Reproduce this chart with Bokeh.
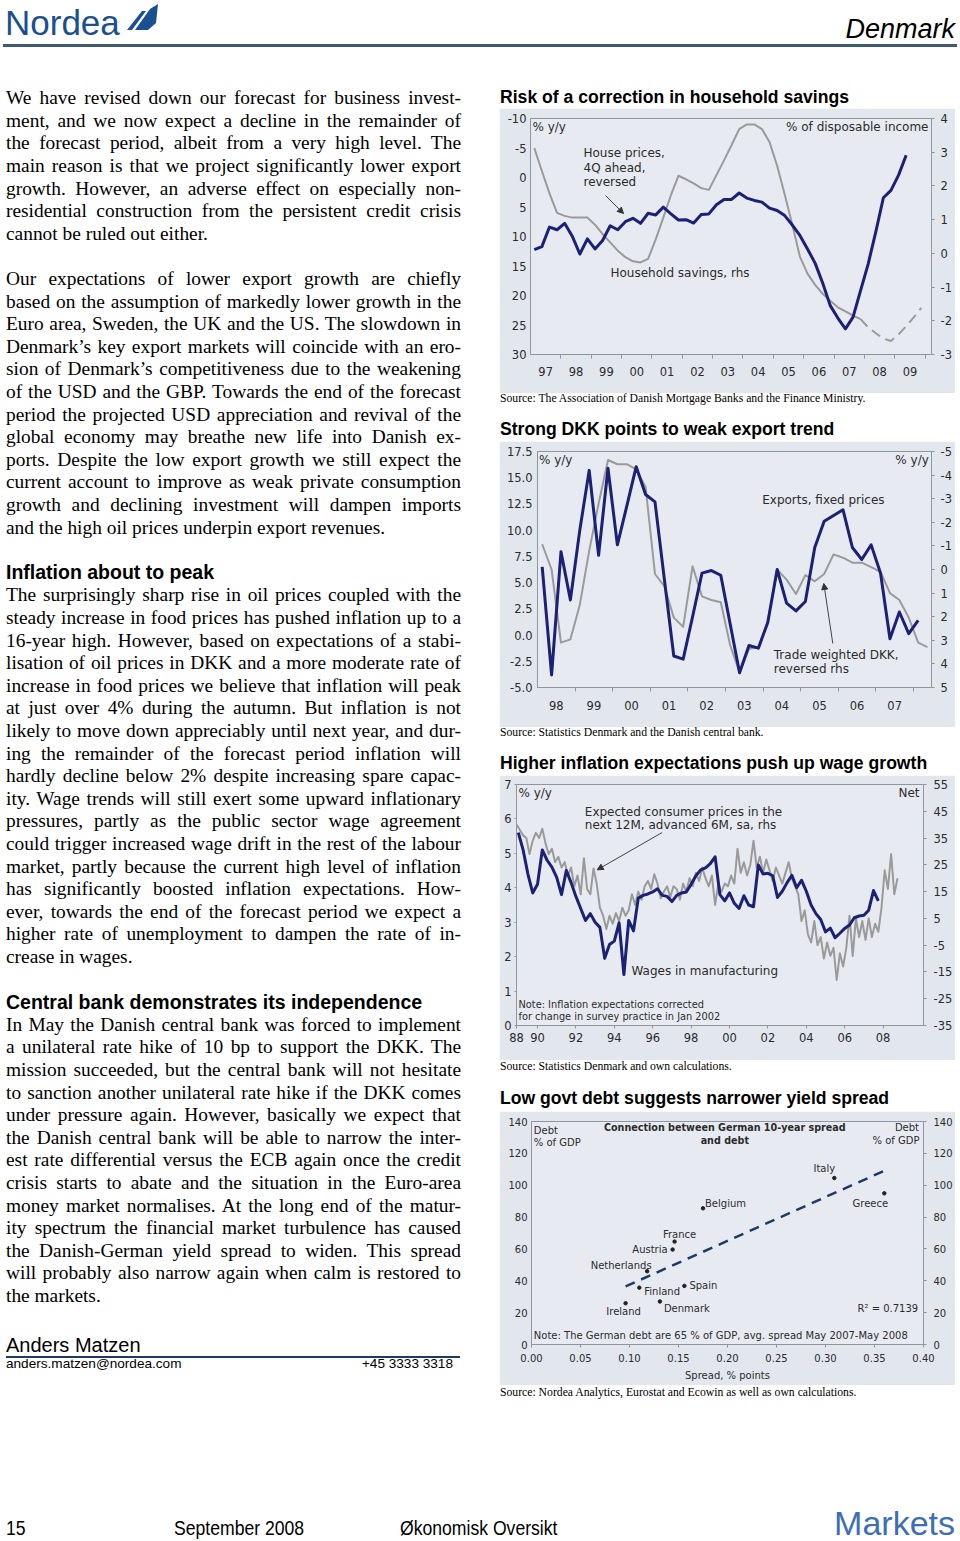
import numpy as np
from bokeh.plotting import figure
from bokeh.models import (Range1d, LinearAxis, FixedTicker, Label, Arrow, NormalHead,
                          Div, Spacer)
from bokeh.layouts import column, row
from bokeh.embed import file_html
from bokeh.resources import INLINE

# ============================ DATA ============================
# Chart 1 - quarterly observations, first = 1997 Q1
c1_first_quarter = 1997.125
c1_household_savings = [0.11, 0.20, 0.78, 0.70, 0.89, 0.51, -0.02, 0.43, 0.13, 0.38,
                        0.82, 0.70, 0.94, 1.04, 0.89, 1.19, 1.14, 1.37, 1.17, 0.99,
                        1.00, 0.90, 1.15, 1.17, 1.44, 1.60, 1.60, 1.79, 1.64, 1.57,
                        1.52, 1.34, 1.27, 1.12, 0.84, 0.53, 0.13, -0.29, -0.88, -1.55,
                        -1.92, -2.24, -1.89, -1.10, -0.31, 0.64, 1.65, 1.87, 2.32, 2.91]
c1_house_prices_rev = [-5.0, -1.1, 2.7, 6.0, 6.5, 6.8, 6.8, 6.8, 8.0, 9.6,
                       11.0, 12.4, 13.5, 14.2, 14.4, 13.8, 10.5, 6.8, 3.0, -0.3,
                       0.3, 1.0, 1.8, 2.1, -0.4, -2.9, -5.5, -8.2, -9.0, -9.0,
                       -8.2, -6.0, -2.0, 2.9, 8.0, 13.4, 16.3, 18.2, 19.7, 20.9,
                       22.0, 22.7, 23.4, 24.0, 25.4, 26.4, 27.3, 27.7, 26.6, 25.2,
                       23.7, 22.1]
c1_forecast_from = 43
c1_years = list(range(1997, 2010))

# Chart 2 - quarterly observations, first = 1998 Q1
c2_first_quarter = 1998.125
c2_exports = [6.5, -3.8, 7.95, 3.35, 10.0, 15.7, 7.6, 15.9, 8.6, 12.3,
              16.05, 13.4, 12.7, 5.3, -2.0, -2.3, 1.75, 5.9, 6.15, 5.7,
              1.05, -3.6, -1.0, -1.25, 1.2, 6.25, 3.05, 2.3, 3.2, 8.35,
              10.85, 11.4, 11.95, 8.35, 7.2, 8.6, 5.9, -0.35, 2.2, 0.14, 1.4]
c2_dkk_rev = [-1.07, 0.0, 3.1, 2.96, 1.5, -0.79, -2.79, -4.64, -4.46, -4.46,
              -4.24, -3.5, 0.19, 0.71, 2.04, 2.43, -0.14, 1.14, 1.29, 1.39,
              3.21, 4.36, 3.36, 3.29, 2.21, 0.0, 0.43, 1.04, 0.24, 0.5,
              0.19, -0.64, -0.5, -0.29, -0.29, -0.1, 0.1, 1.0, 1.29, 2.04,
              3.1, 3.29]
c2_years = list(range(1998, 2008))

# Chart 3 - wages quarterly from 1989 Q1, expectations every two months
c3_wage_first_quarter = 1989.0
c3_wages = [5.60, 5.10, 4.40, 3.85, 4.10, 5.10, 4.80, 4.60, 4.30, 3.80,
            4.50, 4.15, 3.75, 3.40, 3.05, 3.25, 3.00, 2.85, 1.95, 2.35,
            2.45, 2.98, 1.48, 3.05, 2.75, 3.70, 3.78, 3.82, 3.88, 3.97,
            3.78, 3.75, 3.60, 3.78, 3.85, 3.88, 4.10, 4.35, 4.52, 4.58,
            4.70, 4.90, 3.80, 3.62, 3.85, 3.55, 3.40, 3.77, 3.50, 3.45,
            4.66, 4.40, 4.42, 4.35, 3.72, 3.90, 4.15, 4.36, 4.00, 4.22,
            3.90, 3.50, 3.25, 3.08, 2.72, 2.83, 2.55, 2.68, 2.82, 2.92,
            3.13, 3.18, 3.20, 3.35, 3.92, 3.62]
c3_expect_first = 1988.917
c3_expected_prices = [40, 38, 36, 35, 29, 34, 37, 35, 38.5, 33,
                      29, 31, 26, 28, 24, 26, 21, 24, 17, 21,
                      14, 27.5, 16, 14, 23.6, 18, 9, 6, 1, 6,
                      3, 7, 4, 9, 6, 8, 14, 10, 15, 12,
                      17, 19, 16, 21.5, 18, 12.5, 15, 17, 13, 17,
                      16, 12, 18, 15, 20, 17, 22, 19, 24, 20,
                      17, 21, 10, 18, 15, 18, 17, 21, 18, 31,
                      22, 26, 21, 25, 34, 24, 28, 22, 27, 23,
                      19, 24, 21, 18, 22, 26, 20, 17, 14, 4,
                      8, -1, -4, 4, -5, -2, -10, -4, -9, -6,
                      -18, -8, -13, -6, 6, -9, 5, -2, 4, -3,
                      5, -2, 3, 0, 9, 23, 16, 29, 14, 20]
c3_tick_years = list(range(1988, 2009, 2))

# Chart 4 - scatter
c4_countries = ["Italy", "Greece", "Belgium", "France", "Austria",
                "Netherlands", "Finland", "Spain", "Ireland", "Denmark"]
c4_spread = [0.309, 0.360, 0.175, 0.146, 0.144, 0.118, 0.110, 0.156, 0.096, 0.131]
c4_debt = [104.5, 94.9, 85.5, 64.6, 59.6, 46.0, 35.7, 36.8, 25.9, 27.0]

# ============================ STYLE ============================
BLUE = "#1b2175"
GRAY = "#9a9a9a"
PANEL = "#e2e7ee"
PLOTBG = "#e7ebf1"
FRAMEC = "#8f969e"
TXT = "#2b2b2b"
FONT = "DejaVu Sans"
MET = {"Liberation Sans": (0.905, 0.212), "Liberation Serif": (0.891, 0.216),
       "DejaVu Sans": (0.928, 0.236)}
RW = 456  # right column width


def txt(x, base, s, size, fam="Liberation Sans", weight="normal", style="normal",
        color="#000", anchor="left", extra=""):
    a, d = MET[fam]
    lh = (a + d) * size
    top = base - a * size
    tr = "transform:translateX(-100%);" if anchor == "right" else ""
    return (f'<div style="position:absolute;left:{x:.1f}px;top:{top:.2f}px;'
            f"font-family:'{fam}';font-size:{size}px;line-height:{lh:.2f}px;"
            f'font-weight:{weight};font-style:{style};color:{color};white-space:nowrap;'
            f'{tr}{extra}">{s}</div>')


def box(w, h, inner):
    return Div(text=f'<div style="position:relative;width:{w}px;height:{h}px;">{inner}</div>',
               width=w, height=h, margin=0)


class FrameMap:
    def __init__(self, geom, xr, yr):
        gx, gy, w, h, (bl, br, bt, bb) = geom
        self.x0p, self.x1p = gx + bl, gx + w - br
        self.y0p, self.y1p = gy + bt, gy + h - bb
        self.xr, self.yr = xr, yr

    def x(self, px):
        return self.xr[0] + (px - self.x0p) / (self.x1p - self.x0p) * (self.xr[1] - self.xr[0])

    def y(self, py):
        return self.yr[0] + (self.y1p - py) / (self.y1p - self.y0p) * (self.yr[1] - self.yr[0])

    def ppx(self):
        return (self.x1p - self.x0p) / (self.xr[1] - self.xr[0])

    def ppy(self):
        return (self.y1p - self.y0p) / (self.yr[1] - self.yr[0])


def make_fig(geom, xr, yr):
    gx, gy, w, h, (bl, br, bt, bb) = geom
    p = figure(width=w, height=h, x_range=Range1d(*xr), y_range=Range1d(*yr),
               output_backend="svg", toolbar_location=None,
               min_border_left=bl, min_border_right=br, min_border_top=bt, min_border_bottom=bb)
    p.frame_align = False
    p.background_fill_color = PLOTBG
    p.border_fill_color = PANEL
    p.outline_line_color = FRAMEC
    p.xgrid.visible = False
    p.ygrid.visible = False
    return p


def style_axis(ax, size="11.5px", tick_out=3, standoff=4):
    ax.major_label_text_font = FONT
    ax.major_label_text_font_size = size
    ax.major_label_text_color = TXT
    ax.axis_line_color = FRAMEC
    ax.major_tick_line_color = FRAMEC
    ax.minor_tick_line_color = None
    ax.major_tick_in = 0
    ax.minor_tick_in = 0
    ax.major_tick_out = tick_out
    ax.major_label_standoff = standoff


def set_ticks(ax, ticks, fmt="{:g}"):
    ax.ticker = FixedTicker(ticks=ticks)
    ax.major_label_overrides = {t: fmt.format(t) for t in ticks}


def lab(p, x, y, text, size="12px", align="left", bold=False):
    p.add_layout(Label(x=x, y=y, text=text, text_font=FONT, text_font_size=size,
                       text_color=TXT, text_align=align, text_baseline="middle",
                       text_font_style="bold" if bold else "normal"))


def arrow(p, x0, y0, x1, y1):
    p.add_layout(Arrow(end=NormalHead(size=6, fill_color="#333333", line_color="#333333"),
                       x_start=x0, y_start=y0, x_end=x1, y_end=y1,
                       line_color="#444444", line_width=1))


# ============================ CHART 1 ============================
G1 = (499, 108, RW, 285, (31, 24, 10, 39))
C1_XR, C1_YR, C1_RHS = (1997.0, 2010.21), (30, -10), (-3, 4)
p1 = make_fig(G1, C1_XR, C1_YR)
p1.extra_y_ranges = {"rhs": Range1d(*C1_RHS)}
ax1r = LinearAxis(y_range_name="rhs")
p1.add_layout(ax1r, "right")
ax1l, ax1b = p1.left[0], p1.below[0]
for ax in (ax1l, ax1r, ax1b):
    style_axis(ax)
set_ticks(ax1l, list(range(-10, 31, 5)))
ax1l.major_tick_out = 0
set_ticks(ax1r, list(range(-3, 5)))
ax1r.major_label_standoff = 6
ax1b.ticker = FixedTicker(ticks=[y + 0.5 for y in c1_years], minor_ticks=[y + 1 for y in c1_years])
ax1b.major_label_overrides = {y + 0.5: f"{y % 100:02d}" for y in c1_years}
ax1b.major_tick_out = 0
ax1b.minor_tick_out = 4
ax1b.minor_tick_line_color = FRAMEC
ax1b.major_label_standoff = 8

hp_x = [c1_first_quarter + 0.25 * i for i in range(len(c1_house_prices_rev))]
sv_x = [c1_first_quarter + 0.25 * i for i in range(len(c1_household_savings))]
k = c1_forecast_from
p1.line(hp_x[:k + 1], c1_house_prices_rev[:k + 1], line_color=GRAY, line_width=2, line_join="round")
p1.line(hp_x[k:], c1_house_prices_rev[k:], line_color=GRAY, line_width=2, line_dash="10 6")
p1.line(sv_x, c1_household_savings, line_color=BLUE, line_width=3, line_join="round",
        y_range_name="rhs")
m1 = FrameMap(G1, C1_XR, C1_YR)
lab(p1, m1.x(532), m1.y(126), "% y/y")
lab(p1, m1.x(928), m1.y(126), "% of disposable income", align="right")
for i, s in enumerate(["House prices,", "4Q ahead,", "reversed"]):
    lab(p1, m1.x(583), m1.y(152.7 + 14.5 * i), s)
lab(p1, m1.x(610), m1.y(272), "Household savings, rhs")
arrow(p1, m1.x(605), m1.y(195), m1.x(623), m1.y(213))

# ============================ CHART 2 ============================
G2 = (499, 441, RW, 286, (38, 24, 10, 40))
C2_XR, C2_YR, C2_RHS = (1998.0, 2008.48), (-5, 17.5), (5, -5)
p2 = make_fig(G2, C2_XR, C2_YR)
p2.extra_y_ranges = {"rhs": Range1d(*C2_RHS)}
ax2r = LinearAxis(y_range_name="rhs")
p2.add_layout(ax2r, "right")
ax2l, ax2b = p2.left[0], p2.below[0]
for ax in (ax2l, ax2r, ax2b):
    style_axis(ax)
set_ticks(ax2l, [-5 + 2.5 * i for i in range(10)], "{:.1f}")
ax2l.major_tick_out = 0
ax2l.major_label_standoff = 5
set_ticks(ax2r, list(range(-5, 6)))
ax2r.major_label_standoff = 6
ax2b.ticker = FixedTicker(ticks=[y + 0.5 for y in c2_years], minor_ticks=[y + 1 for y in c2_years])
ax2b.major_label_overrides = {y + 0.5: f"{y % 100:02d}" for y in c2_years}
ax2b.major_tick_out = 0
ax2b.minor_tick_out = 4
ax2b.minor_tick_line_color = FRAMEC
ax2b.major_label_standoff = 9

ex_x = [c2_first_quarter + 0.25 * i for i in range(len(c2_exports))]
dk_x = [c2_first_quarter + 0.25 * i for i in range(len(c2_dkk_rev))]
p2.line(dk_x, c2_dkk_rev, line_color=GRAY, line_width=2, line_join="round", y_range_name="rhs")
p2.line(ex_x, c2_exports, line_color=BLUE, line_width=3, line_join="round")
m2 = FrameMap(G2, C2_XR, C2_YR)
lab(p2, m2.x(538.5), m2.y(459), "% y/y")
lab(p2, m2.x(928.3), m2.y(459), "% y/y", align="right")
lab(p2, m2.x(761.7), m2.y(499.7), "Exports, fixed prices")
lab(p2, m2.x(773.3), m2.y(654.7), "Trade weighted DKK,")
lab(p2, m2.x(773.3), m2.y(668.7), "reversed rhs")
arrow(p2, m2.x(832.3), m2.y(643), m2.x(823.3), m2.y(583))

# ============================ CHART 3 ============================
G3 = (499, 775, RW, 285, (17, 32, 9, 35))
C3_XR, C3_YR, C3_RHS = (1988.906, 2010.104), (0, 7), (-35, 55)
p3 = make_fig(G3, C3_XR, C3_YR)
p3.extra_y_ranges = {"rhs": Range1d(*C3_RHS)}
ax3r = LinearAxis(y_range_name="rhs")
p3.add_layout(ax3r, "right")
ax3l, ax3b = p3.left[0], p3.below[0]
for ax in (ax3l, ax3r, ax3b):
    style_axis(ax)
set_ticks(ax3l, list(range(0, 8)))
ax3l.major_tick_out = 2
ax3l.major_label_standoff = 3
set_ticks(ax3r, list(range(-35, 56, 10)))
ax3r.major_label_standoff = 7
c3_ticks = [max(y, C3_XR[0]) for y in c3_tick_years]
ax3b.ticker = FixedTicker(ticks=c3_ticks)
ax3b.major_label_overrides = {t: f"{y % 100:02d}" for t, y in zip(c3_ticks, c3_tick_years)}
ax3b.major_tick_out = 3
ax3b.major_label_standoff = 4

wg_x = [c3_wage_first_quarter + 0.25 * i for i in range(len(c3_wages))]
ep_x = [c3_expect_first + i / 6 for i in range(len(c3_expected_prices))]
p3.line(ep_x, c3_expected_prices, line_color=GRAY, line_width=2, line_join="round",
        y_range_name="rhs")
p3.line(wg_x, c3_wages, line_color=BLUE, line_width=3, line_join="round")
m3 = FrameMap(G3, C3_XR, C3_YR)
lab(p3, m3.x(518), m3.y(792.7), "% y/y")
lab(p3, m3.x(919), m3.y(792.7), "Net", align="right")
lab(p3, m3.x(584.3), m3.y(811), "Expected consumer prices in the")
lab(p3, m3.x(584.3), m3.y(824.7), "next 12M, advanced 6M, sa, rhs")
arrow(p3, m3.x(661.7), m3.y(832), m3.x(596.7), m3.y(869.3))
lab(p3, m3.x(631), m3.y(970.3), "Wages in manufacturing")
lab(p3, m3.x(518), m3.y(1004.3), "Note: Inflation expectations corrected", size="9.8px")
lab(p3, m3.x(518), m3.y(1016), "for change in survey practice in Jan 2002", size="9.8px")

# ============================ CHART 4 ============================
G4 = (499, 1111, RW, 274, (32, 32, 10, 41))
C4_XR, C4_YR = (0.0, 0.4), (0, 140)
p4 = make_fig(G4, C4_XR, C4_YR)
p4.extra_y_ranges = {"rhs": Range1d(*C4_YR)}
ax4r = LinearAxis(y_range_name="rhs")
p4.add_layout(ax4r, "right")
ax4l, ax4b = p4.left[0], p4.below[0]
for ax in (ax4l, ax4r, ax4b):
    style_axis(ax, size="10px")
for ax in (ax4l, ax4r):
    set_ticks(ax, list(range(0, 141, 20)))
ax4l.major_tick_out = 0
ax4r.major_label_standoff = 7
set_ticks(ax4b, [round(0.05 * i, 2) for i in range(9)], "{:.2f}")
ax4b.major_label_standoff = 6
ax4b.axis_label = "Spread, % points"
ax4b.axis_label_text_font = FONT
ax4b.axis_label_text_font_size = "10px"
ax4b.axis_label_text_font_style = "normal"
ax4b.axis_label_text_color = TXT
ax4b.axis_label_standoff = 5

slope, icpt = np.polyfit(c4_spread, c4_debt, 1)
fx = np.array([min(c4_spread), max(c4_spread)])
p4.line(fx, slope * fx + icpt, line_color="#1f3b63", line_width=2.5, line_dash="10 7")
p4.scatter(c4_spread, c4_debt, size=3.5, color="#222222")
m4 = FrameMap(G4, C4_XR, C4_YR)
LABEL_OFF = {"Italy": (-10, 10, "center"), "Greece": (-14, -10, "center"),
             "Belgium": (2, 5, "left"), "France": (5, 7, "center"),
             "Austria": (-5, 0, "right"), "Netherlands": (-26, 6, "center"),
             "Finland": (5, -3.5, "left"), "Spain": (5, 0.5, "left"),
             "Ireland": (-2, -8, "center"), "Denmark": (4, -7, "left")}
for c, xs, ys in zip(c4_countries, c4_spread, c4_debt):
    ox, oy, al = LABEL_OFF[c]
    lab(p4, xs + ox / m4.ppx(), ys + oy / m4.ppy(), c, size="10px", align=al)
lab(p4, m4.x(533.3), m4.y(1130.3), "Debt", size="10px")
lab(p4, m4.x(533.3), m4.y(1142.3), "% of GDP", size="10px")
lab(p4, m4.x(918.5), m4.y(1127.3), "Debt", size="10px", align="right")
lab(p4, m4.x(919), m4.y(1139.7), "% of GDP", size="10px", align="right")
lab(p4, m4.x(724.3), m4.y(1127.3), "Connection between German 10-year spread", size="9.6px",
    align="center", bold=True)
lab(p4, m4.x(724.3), m4.y(1139.7), "and debt", size="9.6px", align="center", bold=True)
lab(p4, m4.x(917.7), m4.y(1308), "R\u00b2 = 0.7139", size="10px", align="right")
lab(p4, m4.x(533.3), m4.y(1335.3),
    "Note: The German debt are 65 % of GDP, avg. spread May 2007-May 2008", size="10px")

# ============================ TEXT BLOCKS ============================
TITLE_FS, SRC_FS = 17.6, 11.7


def title_div(h, base, s):
    return box(RW, h, txt(1, base, s, TITLE_FS, weight="bold"))


def src_div(h, base, s):
    return box(RW, h, txt(1, base, s, SRC_FS, fam="Liberation Serif"))


right_col = column(
    title_div(24, 19.5, "Risk of a correction in household savings"), p1,
    src_div(25, 10.3, "Source: The Association of Danish Mortgage Banks and the Finance Ministry."),
    title_div(23, 18.3, "Strong DKK points to weak export trend"), p2,
    src_div(25, 10.3, "Source: Statistics Denmark and the Danish central bank."),
    title_div(23, 18.3, "Higher inflation expectations push up wage growth"), p3,
    src_div(27, 11.0, "Source: Statistics Denmark and own calculations."),
    title_div(24, 17.7, "Low govt debt suggests narrower yield spread"), p4,
    src_div(20, 12.3, "Source: Nordea Analytics, Eurostat and Ecowin as well as own calculations."),
    Spacer(width=RW, height=100, margin=0),
    spacing=0)

BODY = [
    (0, "j", "We have revised down our forecast for business invest-"),
    (1, "j", "ment, and we now expect a decline in the remainder of"),
    (2, "j", "the forecast period, albeit from a very high level. The"),
    (3, "j", "main reason is that we project significantly lower export"),
    (4, "j", "growth. However, an adverse effect on especially non-"),
    (5, "j", "residential construction from the persistent credit crisis"),
    (6, "l", "cannot be ruled out either."),
    (8, "j", "Our expectations of lower export growth are chiefly"),
    (9, "j", "based on the assumption of markedly lower growth in the"),
    (10, "j", "Euro area, Sweden, the UK and the US. The slowdown in"),
    (11, "j", "Denmark\u2019s key export markets will coincide with an ero-"),
    (12, "j", "sion of Denmark\u2019s competitiveness due to the weakening"),
    (13, "j", "of the USD and the GBP. Towards the end of the forecast"),
    (14, "j", "period the projected USD appreciation and revival of the"),
    (15, "j", "global economy may breathe new life into Danish ex-"),
    (16, "j", "ports. Despite the low export growth we still expect the"),
    (17, "j", "current account to improve as weak private consumption"),
    (18, "j", "growth and declining investment will dampen imports"),
    (19, "l", "and the high oil prices underpin export revenues."),
    (21, "h", "Inflation about to peak"),
    (22, "j", "The surprisingly sharp rise in oil prices coupled with the"),
    (23, "j", "steady increase in food prices has pushed inflation up to a"),
    (24, "j", "16-year high. However, based on expectations of a stabi-"),
    (25, "j", "lisation of oil prices in DKK and a more moderate rate of"),
    (26, "j", "increase in food prices we believe that inflation will peak"),
    (27, "j", "at just over 4% during the autumn. But inflation is not"),
    (28, "j", "likely to move down appreciably until next year, and dur-"),
    (29, "j", "ing the remainder of the forecast period inflation will"),
    (30, "j", "hardly decline below 2% despite increasing spare capac-"),
    (31, "j", "ity. Wage trends will still exert some upward inflationary"),
    (32, "j", "pressures, partly as the public sector wage agreement"),
    (33, "j", "could trigger increased wage drift in the rest of the labour"),
    (34, "j", "market, partly because the current high level of inflation"),
    (35, "j", "has significantly boosted inflation expectations. How-"),
    (36, "j", "ever, towards the end of the forecast period we expect a"),
    (37, "j", "higher rate of unemployment to dampen the rate of in-"),
    (38, "l", "crease in wages."),
    (40, "h", "Central bank demonstrates its independence"),
    (41, "j", "In May the Danish central bank was forced to implement"),
    (42, "j", "a unilateral rate hike of 10 bp to support the DKK. The"),
    (43, "j", "mission succeeded, but the central bank will not hesitate"),
    (44, "j", "to sanction another unilateral rate hike if the DKK comes"),
    (45, "j", "under pressure again. However, basically we expect that"),
    (46, "j", "the Danish central bank will be able to narrow the inter-"),
    (47, "j", "est rate differential versus the ECB again once the credit"),
    (48, "j", "crisis starts to abate and the situation in the Euro-area"),
    (49, "j", "money market normalises. At the long end of the matur-"),
    (50, "j", "ity spectrum the financial market turbulence has caused"),
    (51, "j", "the Danish-German yield spread to widen. This spread"),
    (52, "j", "will probably also narrow again when calm is restored to"),
    (53, "l", "the markets."),
]

BODY_TOP = 84
left_parts = []
for n, kind, s in BODY:
    if kind == "h":
        left_parts.append(txt(6, 98.3 + 22.6 * n + 7.0 - BODY_TOP, s, 19.5, weight="bold"))
    else:
        extra = "width:455px;text-align:justify;text-align-last:justify;" if kind == "j" else ""
        left_parts.append(txt(6, 104.4 + 22.6 * n - BODY_TOP, s, 19.4, fam="Liberation Serif",
                              extra=extra))
left_parts.append(txt(6, 1351.7 - BODY_TOP, "Anders Matzen", 20))
left_parts.append(f'<div style="position:absolute;left:6px;top:{1356 - BODY_TOP}px;width:454px;'
                  'height:2px;background:#1d3a63"></div>')
left_parts.append(txt(6, 1368.3 - BODY_TOP, "anders.matzen@nordea.com", 13.6))
left_parts.append(txt(453, 1368.3 - BODY_TOP, "+45 3333 3318", 13.6, anchor="right"))
left_col = box(499, 1421, "".join(left_parts))

sail = ('<svg style="position:absolute;left:127px;top:4px" width="32" height="27" viewBox="0 0 32 27">'
        '<polygon points="0,26 15,7 19,7 5,26" fill="#1a4f90"/>'
        '<polygon points="8,26 23,5 31,0 29,19 21,26" fill="#1a4f90"/></svg>')
header = box(RW + 499, BODY_TOP,
             txt(5, 35, "Nordea", 35, color="#1a4f90") + sail +
             txt(955, 38, "Denmark", 27, style="italic", anchor="right") +
             '<div style="position:absolute;left:3px;top:44px;width:954px;height:3px;'
             'background:#3e5a74"></div>')
cond = "transform:scaleX(0.88);transform-origin:left;"
footer = box(RW + 499, 34,
             txt(6, 30, "15", 20, extra=cond) + txt(174, 30, "September 2008", 20, extra=cond) +
             txt(400, 30, "\u00d8konomisk Oversikt", 20, extra=cond) +
             txt(955, 30, "Markets", 34, color="#3d6fb2", anchor="right"))

page = column(header, row(left_col, right_col, spacing=0), footer, spacing=0)

with open("out.html", "w", encoding="utf-8") as f:
    f.write(file_html(page, INLINE, title="Denmark"))
